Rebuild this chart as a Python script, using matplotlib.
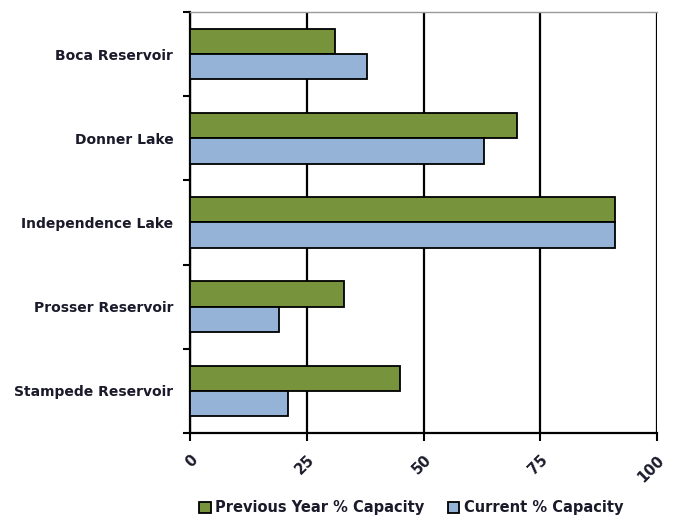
import numpy as np
import matplotlib.pyplot as plt
from matplotlib.ticker import FixedLocator

# Reservoir storage, percent of capacity
reservoirs = ['Boca Reservoir', 'Donner Lake', 'Independence Lake',
              'Prosser Reservoir', 'Stampede Reservoir']
previous_year = [31, 70, 91, 33, 45]
current = [38, 63, 91, 19, 21]
x_ticks = [0, 25, 50, 75, 100]

green = '#77933C'
blue = '#95B3D7'

fig = plt.figure(figsize=(6.73, 5.17), dpi=100)
ax = fig.add_axes([0.2823, 0.1625, 0.6940, 0.8143])

y = np.arange(len(reservoirs))
h = 0.3
ax.barh(y - h / 2, previous_year, height=h, color=green, edgecolor='black',
        linewidth=1.3, label='Previous Year % Capacity', zorder=3)
ax.barh(y + h / 2, current, height=h, color=blue, edgecolor='black',
        linewidth=1.3, label='Current % Capacity', zorder=3)

ax.set_xlim(0, 100)
ax.set_ylim(len(reservoirs) - 0.5, -0.5)

ax.set_xticks(x_ticks)
ax.set_xticklabels([str(t) for t in x_ticks], rotation=45, ha='right',
                   rotation_mode='anchor', fontsize=10.5, fontweight='bold',
                   color='#1a1a2a')
ax.xaxis.grid(True, color='black', linewidth=1.6, zorder=0)
ax.set_axisbelow(True)

ax.set_yticks(y)
ax.set_yticklabels(reservoirs, fontsize=10, fontweight='bold', color='#1a1a2a')
ax.tick_params(axis='y', length=0, pad=12)
ax.yaxis.set_minor_locator(FixedLocator(np.arange(-0.5, len(reservoirs), 1.0)))
ax.tick_params(axis='y', which='minor', length=5, width=1.5, direction='out')
ax.tick_params(axis='x', length=6, width=1.5, direction='out', pad=8)

for s in ['left', 'bottom']:
    ax.spines[s].set_linewidth(1.6)
ax.spines['right'].set_visible(False)
ax.spines['top'].set_color('#999999')
ax.spines['top'].set_linewidth(1.0)

leg = fig.legend(loc='center', bbox_to_anchor=(0.611, 0.018), ncol=2,
                 frameon=False,
                 prop={'weight': 'bold', 'size': 10.5},
                 handlelength=0.8, handleheight=0.8, handletextpad=0.3,
                 columnspacing=1.6)
for t in leg.get_texts():
    t.set_color('#1a1a2a')

fig.savefig('out.png', dpi=100)
